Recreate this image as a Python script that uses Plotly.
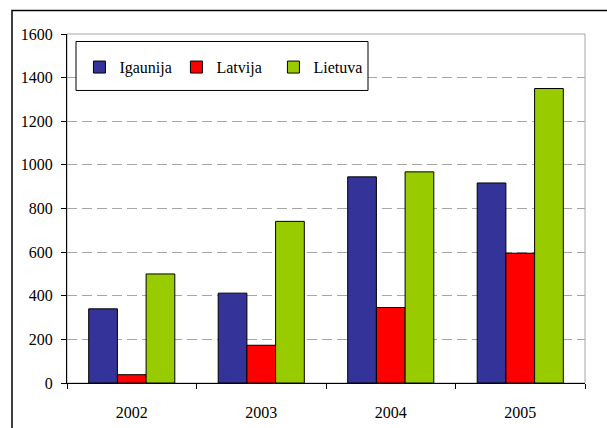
import plotly.graph_objects as go

years = ["2002", "2003", "2004", "2005"]
igaunija = [340, 412, 945, 917]
latvija = [38, 173, 346, 595]
lietuva = [500, 741, 968, 1350]

names = ["Igaunija", "Latvija", "Lietuva"]
colors = ["#333399", "#FF0000", "#99CC00"]

serif = '"Liberation Serif", "Times New Roman", Times, serif'

fig = go.Figure()
for name, vals, col in zip(names, [igaunija, latvija, lietuva], colors):
    fig.add_trace(go.Bar(
        x=years, y=vals, name=name,
        marker=dict(color=col, line=dict(color="black", width=1)),
    ))

W, H = 518, 349.2  # plot area size in px

fig.update_layout(
    width=607, height=428,
    margin=dict(l=67, r=22, t=33.5, b=45.3),
    paper_bgcolor="white", plot_bgcolor="white",
    font=dict(family=serif, size=16, color="black"),
    barmode="group", bargap=0.335, bargroupgap=0,
    showlegend=True,
    legend=dict(
        orientation="h", x=0.024, y=0.905, xanchor="left", yanchor="middle",
        borderwidth=0, bgcolor="rgba(0,0,0,0)",
        font=dict(family=serif, size=16), itemwidth=30, entrywidth=52,
    ),
    xaxis=dict(
        showline=True, linecolor="black", linewidth=1,
        ticks="outside", tickson="boundaries", ticklen=5, tickcolor="black",
        ticklabelstandoff=15, showgrid=False, automargin=False,
    ),
    yaxis=dict(
        range=[0, 1600], dtick=200,
        showline=True, linecolor="black", linewidth=1,
        ticks="outside", ticklen=5, tickcolor="black", ticklabelstandoff=5,
        showgrid=True, gridcolor="#A6A6A6", griddash="10px,5px", gridwidth=1,
        zeroline=False, automargin=False,
    ),
    shapes=[
        # grey plot-area frame (top and right)
        dict(type="rect", xref="paper", yref="paper", x0=0, y0=0, x1=1, y1=1,
             line=dict(color="#A6A6A6", width=1), layer="below"),
        # legend box
        dict(type="rect", xref="paper", yref="paper",
             x0=9 / W, x1=301 / W, y0=1 - 56.5 / H, y1=1 - 7.5 / H,
             line=dict(color="black", width=1), fillcolor="white", layer="above"),
        # outer chart border, clipped by the page
        dict(type="rect", xref="paper", yref="paper",
             x0=-55 / W, y0=-1, x1=2, y1=1 + 23.5 / H,
             line=dict(color="black", width=1.5)),
    ],
)

fig.write_html("out.html", config={"displayModeBar": False},
               post_script="document.body.style.margin='0';")
